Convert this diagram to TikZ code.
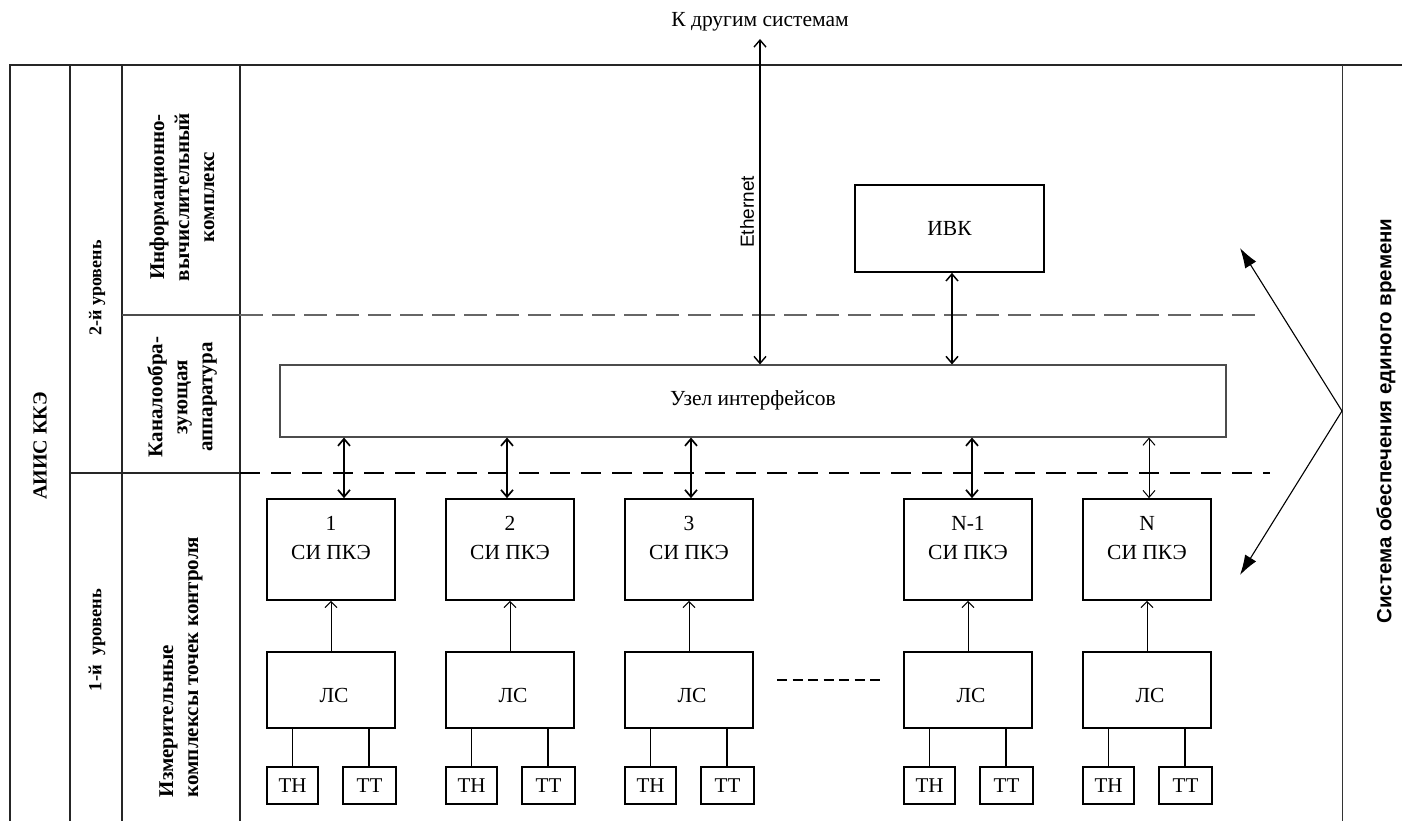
\documentclass[tikz,border=0pt]{standalone}
\usepackage{fontspec}
\setmainfont{Liberation Serif}
\newfontfamily\arialf{Liberation Sans}
\usetikzlibrary{arrows.meta}
\tikzset{
  frame/.style={line width=1.4pt, black!85},
  blk/.style={draw, line width=1.7pt, minimum width=128pt, minimum height=101pt, inner sep=0pt},
  lsbox/.style={draw, line width=1.7pt, minimum width=128pt, minimum height=76pt, inner sep=0pt},
  small/.style={draw, line width=1.4pt, minimum height=37pt, inner sep=0pt, font=\fontsize{21}{23}\selectfont},
  txt/.style={font=\fontsize{21.5}{24}\selectfont, inner sep=0pt},
  lbl/.style={font=\bfseries\fontsize{21}{25}\selectfont, rotate=90, align=center, inner sep=0pt},
  lvl/.style={font=\bfseries\fontsize{18.5}{22}\selectfont, rotate=90, inner sep=0pt},
  bi/.style={{Straight Barb[length=7pt,width=12pt]}-{Straight Barb[length=7pt,width=12pt]}, line width=1.7pt},
  bithin/.style={{Straight Barb[length=7pt,width=12pt]}-{Straight Barb[length=7pt,width=12pt]}, line width=1pt},
  up/.style={-{Straight Barb[length=6pt,width=12pt]}, line width=1pt},
  tri/.style={-{Latex[length=20pt,width=13pt]}, line width=1.1pt},
}
\begin{document}
\begin{tikzpicture}[x=1pt,y=-1pt]
\useasboundingbox (0,0) rectangle (1402,821);
\fill[white] (0,0) rectangle (1402,821);
% frame
\draw[frame] (10,821) -- (10,65) -- (1402,65);
\draw[frame] (70,65) -- (70,821);
\draw[frame] (122,65) -- (122,821);
\draw[frame] (240,65) -- (240,821);
\draw[line width=1pt, black!80] (1342,65) -- (1342,821);
\draw[line width=1.2pt, black!70] (122,315) -- (240,315);
\draw[frame] (70,473) -- (240,473);
% dashed lines
\draw[line width=1.3pt, black!60, dash pattern=on 23pt off 9pt] (240,315) -- (1255,315);
\draw[line width=2pt, black, dash pattern=on 20pt off 11pt] (240,473) -- (1270,473);
% left labels
\node[lbl, font=\bfseries\fontsize{20}{24}\selectfont] (aiis) at (40,446) {АИИС ККЭ};
\node[lvl, font=\bfseries\fontsize{18}{22}\selectfont] (lev2) at (97,288) {2-й уровень};
\node[lvl] (lev1) at (97,640) {1-й\hspace{0.5em}уровень};
\node[lbl] (ivklbl) at (182,197) {Информационно-\\вычислительный\\комплекс};
\node[lbl] (kanlbl) at (182,397) {Каналообра-\\зующая\\аппаратура};
\node[lbl, align=left] (izmlbl) at (181,667) {Измерительные\\комплексы точек контроля};
\node[font=\arialf\bfseries\fontsize{20.5}{22}\selectfont, rotate=90, inner sep=0pt] (sysl) at (1386,421) {Система обеспечения единого времени};
% top
\node[txt] (other) at (760,22) {К другим системам};
\coordinate (ext) at (760,39);
\node[draw, line width=1.1pt, black!70, minimum width=946pt, minimum height=72pt, inner sep=0pt, text=black, font=\fontsize{21.5}{24}\selectfont] (uzel) at (753,401) {\raisebox{5pt}{Узел интерфейсов}};
\node[draw, line width=1.7pt, minimum width=189pt, minimum height=87pt, inner sep=0pt, font=\fontsize{21.5}{24}\selectfont] (ivk) at (949.5,228.5) {ИВК};
\draw[bithin, line width=1.4pt] (ext) -- (uzel.north -| ext);
\node[font=\arialf\fontsize{19}{22}\selectfont, rotate=90, inner sep=0pt] (eth) at (747,212) {Ethernet};
\draw[bi, line width=1.5pt] (ivk.south -| 952,0) -- (uzel.north -| 952,0);
% columns
\foreach \i/\l/\n/\ax/\st in {1/267/1/344/bi, 2/446/2/507/bi, 3/625/3/691/bi, 4/904/N-1/972/bi, 5/1083/N/1149/bithin}{
  \node[blk] (s\i) at (\l+64,549.5) {};
  \node[txt] (sn\i) at (\l+64,523) {\n};
  \node[txt] (st\i) at (\l+64,552) {СИ ПКЭ};
  \node[lsbox] (ls\i) at (\l+64,690) {};
  \node[txt] (lt\i) at (\l+67,695) {ЛС};
  \node[small, minimum width=51pt] (th\i) at (\l+25.5,785.5) {ТН};
  \node[small, minimum width=53pt] (tt\i) at (\l+102.5,785.5) {ТТ};
  \draw[line width=1.3pt] (ls\i.south -| th\i) -- (th\i.north);
  \draw[line width=1.3pt] (ls\i.south -| \l+102,0) -- (tt\i.north -| \l+102,0);
  \draw[up] (ls\i.north) -- (s\i.south);
  \draw[\st] (uzel.south -| \ax,0) -- (s\i.north -| \ax,0);
}
% ellipsis dashes
\coordinate (d1) at (777,680);
\coordinate (d2) at (880,680);
\draw[line width=1.6pt, dash pattern=on 10pt off 5.5pt] (d1) -- (d2);
% time sync arrows
\coordinate (v) at (1342,411);
\coordinate (tu) at (1240,248);
\coordinate (td) at (1240,575);
\draw[tri] (v) -- (tu);
\draw[tri] (v) -- (td);
\end{tikzpicture}
\end{document}
